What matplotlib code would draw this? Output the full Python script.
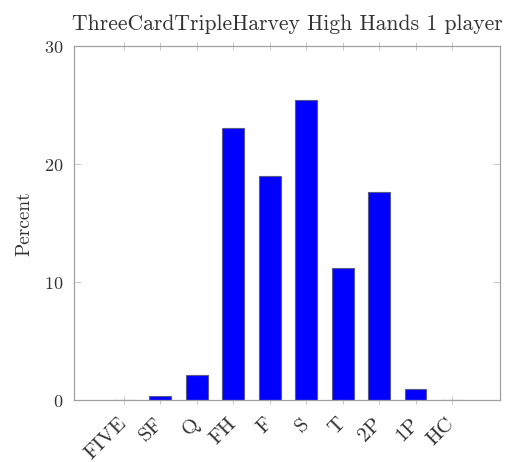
import matplotlib
matplotlib.use("Agg")
import matplotlib.pyplot as plt

# hand categories and their share (percent)
hands = ["FIVE", "SF", "Q", "FH", "F", "S", "T", "2P", "1P", "HC"]
percent = [0.02, 0.35, 2.1, 23.1, 19.0, 25.4, 11.2, 17.6, 0.95, 0.02]
yticks = [0, 10, 20, 30]

plt.rcParams["font.family"] = "cmr10"
plt.rcParams["axes.formatter.use_mathtext"] = True
plt.rcParams["font.size"] = 13

fig = plt.figure(figsize=(5.14, 4.62), dpi=100)
ax = fig.add_axes([0.144, 0.134, 0.829, 0.766])

pos = list(range(len(hands)))
ax.bar(pos, percent, width=0.6, color="#0000ff", edgecolor="#5a5a8a", linewidth=0.8, zorder=2)

ax.set_xlim(-1.37, 10.32)
ax.set_ylim(0, 30)
ax.set_xticks(pos)
# right-centre anchored so the rotated words sit a little left of each tick
ax.set_xticklabels(hands, rotation=45, ha="right", va="center",
                   rotation_mode="anchor", fontsize=15)
ax.set_yticks(yticks)

for s in ax.spines.values():
    s.set_color("#a0a0a0")
    s.set_linewidth(0.9)

ax.tick_params(axis="x", direction="inout", length=6, width=0.6, color="#c0c0c0",
               top=True, bottom=True, labelcolor="#333333", pad=12)
ax.tick_params(axis="y", direction="in", length=5, width=0.6, color="#c0c0c0",
               left=True, right=True, labelcolor="#333333", pad=8)

ax.set_ylabel("Percent", color="#333333", labelpad=7, fontsize=14)
ax.set_title("ThreeCardTripleHarvey High Hands 1 player", color="#333333", pad=12)

fig.savefig("out.png", dpi=100)
